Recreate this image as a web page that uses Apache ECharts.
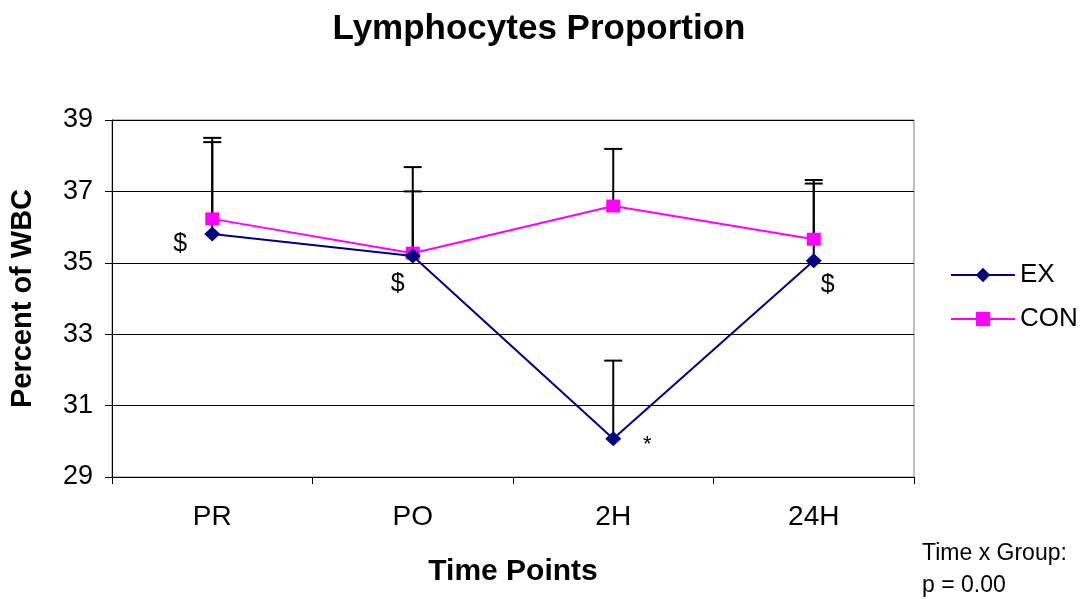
<!DOCTYPE html>
<html>
<head>
<meta charset="utf-8">
<script src="https://cdn.jsdelivr.net/npm/echarts@6/dist/echarts.min.js"></script>
<style>html,body{margin:0;padding:0;background:#fff}#c{width:1089px;height:599px}</style>
</head>
<body>
<div id="c"></div>
<script>
const categories = ['PR', 'PO', '2H', '24H'];
const exValues = [35.81, 35.19, 30.07, 35.06];
const conValues = [36.23, 35.27, 36.59, 35.66];
const exErrTop = [38.38, 37.0, 32.26, 37.22];
const conErrTop = [38.5, 37.68, 38.19, 37.32];
const exMarks = ['$', '$', '*', '$'];
const yTicks = [29, 31, 33, 35, 37, 39];

const FONT = 'Liberation Sans, Arial, sans-serif';
const chart = echarts.init(document.getElementById('c'));

function errSeries(name, means, tops) {
  return {
    type: 'custom',
    name: name + 'err',
    z: 1,
    silent: true,
    data: means.map((m, i) => [i, m, tops[i]]),
    renderItem: function (params, api) {
      const p0 = api.coord([api.value(0), api.value(1)]);
      const p1 = api.coord([api.value(0), api.value(2)]);
      const w = 9;
      return {
        type: 'group',
        children: [
          { type: 'line', shape: { x1: p0[0], y1: p0[1], x2: p1[0], y2: p1[1] }, style: { stroke: '#000', lineWidth: 2 } },
          { type: 'line', shape: { x1: p1[0] - w, y1: p1[1], x2: p1[0] + w, y2: p1[1] }, style: { stroke: '#000', lineWidth: 2 } }
        ]
      };
    }
  };
}

const markOffsets = [[-32, 10], [-15, 28], [34, 6], [14, 24]];
const exData = exValues.map((v, i) => ({
  value: v,
  label: {
    show: true,
    formatter: exMarks[i],
    position: 'inside',
    offset: markOffsets[i],
    color: '#000',
    fontSize: exMarks[i] === '*' ? 22 : 25,
    fontFamily: FONT
  }
}));

chart.setOption({
  backgroundColor: '#fff',
  animation: false,
  title: {
    text: 'Lymphocytes Proportion',
    left: 534,
    textAlign: 'center',
    top: 7,
    textStyle: { fontFamily: FONT, fontSize: 35, fontWeight: 'bold', color: '#000' }
  },
  legend: {
    orient: 'vertical',
    left: 945,
    top: 257,
    itemWidth: 64,
    itemHeight: 18,
    itemGap: 18,
    textStyle: { fontFamily: FONT, fontSize: 26, color: '#000' },
    data: ['EX', 'CON']
  },
  grid: {
    left: 112, right: 175, top: 120, bottom: 122,
    outerBoundsMode: 'none',
    containLabel: false,
    show: true, borderColor: '#808080', borderWidth: 1, backgroundColor: '#fff'
  },
  xAxis: {
    type: 'category',
    data: categories,
    boundaryGap: true,
    name: 'Time Points',
    nameLocation: 'middle',
    nameGap: 80,
    nameTextStyle: { fontFamily: FONT, fontSize: 30, fontWeight: 'bold', color: '#000' },
    axisLine: { lineStyle: { color: '#000', width: 1 } },
    axisTick: { show: true, alignWithLabel: false, length: 7, lineStyle: { color: '#000' } },
    axisLabel: { fontFamily: FONT, fontSize: 28, color: '#000', margin: 26 }
  },
  yAxis: {
    type: 'value',
    min: 29, max: 39, interval: 2,
    name: 'Percent of WBC',
    nameLocation: 'middle',
    nameGap: 75,
    nameTextStyle: { fontFamily: FONT, fontSize: 29, fontWeight: 'bold', color: '#000' },
    axisLine: { show: true, lineStyle: { color: '#000', width: 1 } },
    axisTick: { show: true, length: 7, lineStyle: { color: '#000' } },
    axisLabel: {
      fontFamily: FONT, fontSize: 27, color: '#000', margin: 19,
      formatter: v => yTicks.includes(v) ? String(v) : ''
    },
    splitLine: { show: true, lineStyle: { color: '#000', width: 1 } }
  },
  series: [
    errSeries('EX', exValues, exErrTop),
    errSeries('CON', conValues, conErrTop),
    {
      name: 'CON', type: 'line', data: conValues, z: 3,
      symbol: 'rect', symbolSize: [14, 13],
      lineStyle: { color: '#ff00ff', width: 2 },
      itemStyle: { color: '#ff00ff' }
    },
    {
      name: 'EX', type: 'line', data: exData, z: 4,
      symbol: 'diamond', symbolSize: [16, 15],
      lineStyle: { color: '#000080', width: 2 },
      itemStyle: { color: '#000080' }
    }
  ],
  graphic: [
    {
      type: 'text', left: 922, top: 538,
      style: { text: 'Time x Group:\np = 0.00', fontFamily: FONT, fontSize: 23, lineHeight: 32, fill: '#000' }
    }
  ]
});
</script>
</body>
</html>
